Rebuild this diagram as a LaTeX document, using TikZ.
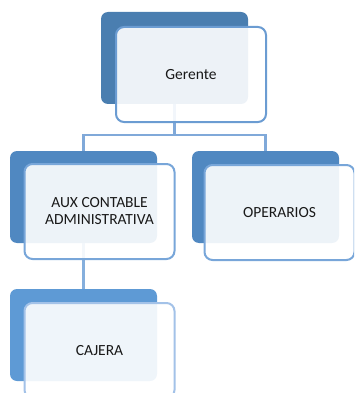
\documentclass[tikz,border=0pt]{standalone}
\usepackage{fontspec}
\setmainfont{Carlito}
\definecolor{backA}{HTML}{4A7EB0}
\definecolor{backB}{HTML}{5088C1}
\definecolor{backC}{HTML}{5E9AD5}
\definecolor{edgeA}{HTML}{6B9CD2}
\definecolor{edgeB}{HTML}{78A6D9}
\definecolor{edgeC}{HTML}{A3C2E8}
\definecolor{linkc}{HTML}{80A9D9}
\tikzset{
  backbox/.style={rectangle, rounded corners=7pt, minimum width=147pt, minimum height=92pt, inner sep=0pt, draw=none},
  frontbox/.style={rectangle, rounded corners=8pt, minimum width=150pt, minimum height=95pt, inner sep=0pt, line width=2pt, fill=white, fill opacity=0.9, text opacity=1, align=center, font=\fontsize{15.5}{17}\selectfont, text=black!90},
  link/.style={draw=linkc, line width=2.4pt}
}
\begin{document}
\begin{tikzpicture}[x=1pt,y=-1pt]
\useasboundingbox (0,0) rectangle (354,393);
\clip (0,0) rectangle (354,393);
% back boxes
\node[backbox, fill=backA] (gb) at (174.5,58) {};
\node[backbox, fill=backB] (ab) at (83.5,197) {};
\node[backbox, fill=backB] (ob) at (265.5,197) {};
\node[backbox, fill=backC] (cb) at (83.5,335) {};
% connectors
\coordinate (bus) at (174.5,135);
\draw[link] (gb.south) -- (bus) -| (ab.north);
\draw[link] (bus) -| (ob.north);
\draw[link, draw=edgeB!90] (ab.south) -- (cb.north);
% front boxes
\node[frontbox, draw=edgeA] (g) at (191,74.5) {Gerente};
\node[frontbox, draw=edgeB] (a) at (99.5,211.5) {AUX CONTABLE\\ADMINISTRATIVA};
\node[frontbox, draw=edgeB] (o) at (279.5,212.5) {OPERARIOS};
\node[frontbox, draw=edgeC] (c) at (99.5,350.5) {CAJERA};
\end{tikzpicture}
\end{document}
